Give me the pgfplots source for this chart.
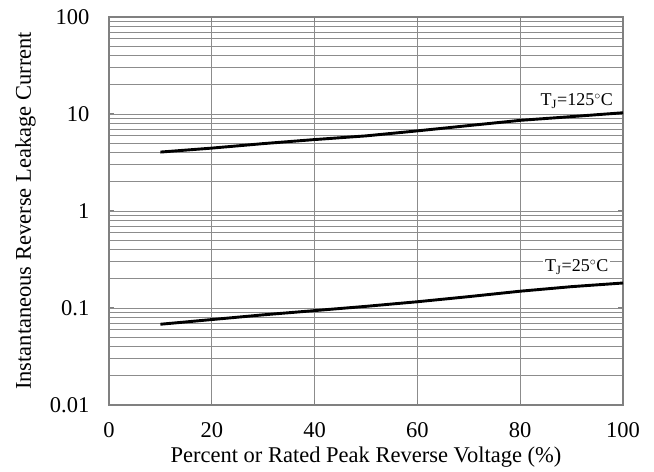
\documentclass[border=0pt]{standalone}
\usepackage{pgfplots}
\pgfplotsset{compat=1.18}
\usepackage{fontspec}
\setmainfont{Liberation Serif}
\begin{document}
\fontsize{22.5}{26}\selectfont
\begin{tikzpicture}
\begin{axis}[
  scale only axis, width=514pt, height=388pt,
  xmin=0, xmax=100, ymin=0.01, ymax=100, ymode=log,
  xtick={0,20,...,100},
  ytick={0.01,0.1,1,10,100}, yticklabels={0.01,0.1,1,10,100},
  /pgf/number format/assume math mode=true,
  grid=both,
  major grid style={draw=black!45, line width=0.9pt},
  minor grid style={draw=black!45, line width=0.9pt},
  axis line style={draw=black!50, line width=1.2pt},
  major tick length=5pt, minor tick length=0pt,
  tick style={draw=black!50, line width=1pt},
  xticklabel style={yshift=-10pt},
  yticklabel style={xshift=-12pt},
  xlabel={Percent or Rated Peak Reverse Voltage (\%)},
  ylabel={Instantaneous Reverse Leakage Current},
  xlabel style={yshift=6pt},
  ylabel style={yshift=-1pt},
  clip=false,
]
\addplot[black, line width=2.9pt] coordinates {
  (10,4.05) (20,4.45) (30,4.95) (40,5.45) (50,5.95) (60,6.7) (70,7.6) (80,8.6) (90,9.4) (100,10.3)
};
\addplot[black, line width=2.9pt] coordinates {
  (10,0.068) (20,0.076) (30,0.085) (40,0.094) (50,0.104) (60,0.116) (70,0.131) (80,0.149) (90,0.166) (100,0.181)
};
\node[font=\fontsize{18}{20}\selectfont, fill=white, inner sep=2pt] at (axis cs:91,13.6) {T\textsubscript{J}=125$^\circ$C};
\node[font=\fontsize{18}{20}\selectfont, fill=white, inner sep=2pt] at (axis cs:91,0.264) {T\textsubscript{J}=25$^\circ$C};
\end{axis}
\pgfresetboundingbox
\path[use as bounding box] ([shift={(-109pt,-67pt)}]current axis.south west) rectangle ([shift={(31pt,17pt)}]current axis.north east);
\end{tikzpicture}
\end{document}
